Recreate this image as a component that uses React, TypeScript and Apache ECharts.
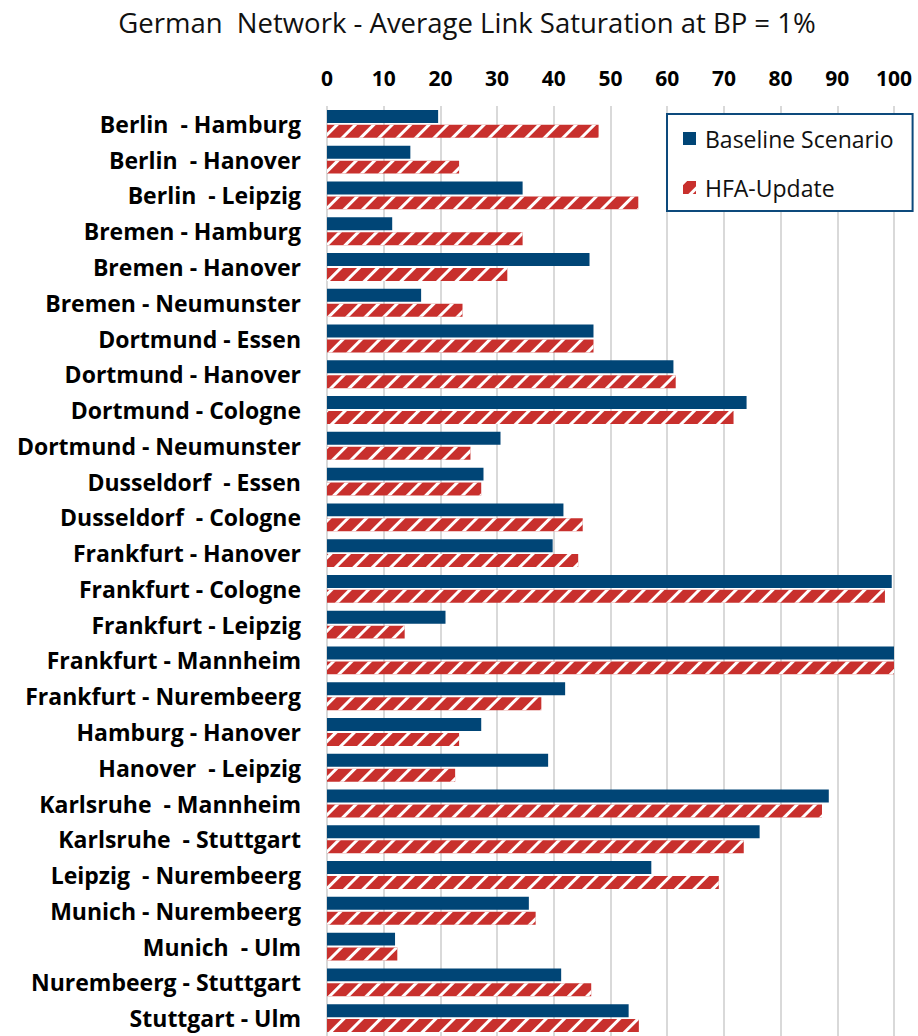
import React, { useEffect, useRef } from "react";
import * as echarts from "echarts";

const categories = [
  "Berlin  - Hamburg",
  "Berlin  - Hanover",
  "Berlin  - Leipzig",
  "Bremen - Hamburg",
  "Bremen - Hanover",
  "Bremen - Neumunster",
  "Dortmund - Essen",
  "Dortmund - Hanover",
  "Dortmund - Cologne",
  "Dortmund - Neumunster",
  "Dusseldorf  - Essen",
  "Dusseldorf  - Cologne",
  "Frankfurt - Hanover",
  "Frankfurt - Cologne",
  "Frankfurt - Leipzig",
  "Frankfurt - Mannheim",
  "Frankfurt - Nurembeerg",
  "Hamburg - Hanover",
  "Hanover  - Leipzig",
  "Karlsruhe  - Mannheim",
  "Karlsruhe  - Stuttgart",
  "Leipzig  - Nurembeerg",
  "Munich - Nurembeerg",
  "Munich  - Ulm",
  "Nurembeerg - Stuttgart",
  "Stuttgart - Ulm",
];

const baseline = [
  19.6, 14.7, 34.5, 11.5, 46.3, 16.6, 47.0, 61.1, 74.0, 30.6, 27.6, 41.7, 39.8,
  99.6, 20.9, 100, 42.0, 27.2, 39.0, 88.5, 76.3, 57.2, 35.6, 12.0, 41.3, 53.2,
];

const hfaUpdate = [
  47.9, 23.3, 54.9, 34.5, 31.8, 23.9, 47.0, 61.5, 71.7, 25.3, 27.2, 45.1, 44.3,
  98.4, 13.7, 100, 37.8, 23.3, 22.6, 87.3, 73.5, 69.1, 36.8, 12.4, 46.6, 55.0,
];

const xTicks = { min: 0, max: 100, interval: 10 };

const BLUE = "#004576";
const RED = "#C8302D";

export default function App() {
  const ref = useRef<HTMLDivElement>(null);

  useEffect(() => {
    if (!ref.current) return;
    const chart = echarts.init(ref.current, null, { renderer: "svg" });
    const font = "'Open Sans', 'Noto Sans', sans-serif";
    chart.setOption({
      animation: false,
      backgroundColor: "#ffffff",
      textStyle: { fontFamily: font },
      title: {
        text: "German  Network - Average Link Saturation at BP = 1%",
        left: 462,
        textAlign: "center",
        top: 3,
        textStyle: {
          fontFamily: font,
          fontSize: 27.5,
          fontWeight: "normal",
          color: "#111111",
        },
      },
      legend: {
        orient: "vertical",
        left: 667,
        top: 114,
        padding: [13, 19, 12, 16],
        itemGap: 26,
        itemWidth: 13,
        itemHeight: 13,
        icon: "rect",
        borderColor: "#0D4A7C",
        borderWidth: 2,
        backgroundColor: "#ffffff",
        textStyle: {
          fontFamily: font,
          fontSize: 23,
          color: "#111111",
          padding: [0, 0, 0, 4],
        },
        data: ["Baseline Scenario", "HFA-Update"],
      },
      grid: {
        left: 327,
        right: 24,
        top: 106,
        bottom: 0,
        containLabel: false,
      },
      xAxis: {
        type: "value",
        position: "top",
        min: xTicks.min,
        max: xTicks.max,
        interval: xTicks.interval,
        axisLine: { show: false },
        axisTick: { show: false },
        axisLabel: {
          margin: 18,
          fontFamily: font,
          fontSize: 21,
          fontWeight: "bold",
          color: "#000000",
        },
        splitLine: { lineStyle: { color: "#d9d9d9", width: 2 } },
      },
      yAxis: {
        type: "category",
        inverse: true,
        data: categories,
        axisLine: { show: false },
        axisTick: { show: false },
        axisLabel: {
          margin: 26,
          fontFamily: font,
          fontSize: 23,
          fontWeight: "bold",
          color: "#000000",
        },
      },
      series: [
        {
          name: "Baseline Scenario",
          type: "bar",
          data: baseline,
          barCategoryGap: "22%",
          barGap: "15%",
          itemStyle: { color: BLUE },
        },
        {
          name: "HFA-Update",
          type: "bar",
          data: hfaUpdate,
          barCategoryGap: "22%",
          barGap: "15%",
          itemStyle: {
            color: RED,
            decal: {
              symbol: "rect",
              symbolSize: 1,
              dashArrayX: [1, 0],
              dashArrayY: [3, 10],
              rotation: -Math.PI / 4,
              color: "#ffffff",
            },
          },
        },
      ],
    });
    return () => chart.dispose();
  }, []);

  return (
    <div
      ref={ref}
      style={{ position: "absolute", left: 0, top: 0, width: 918, height: 1036 }}
    />
  );
}
